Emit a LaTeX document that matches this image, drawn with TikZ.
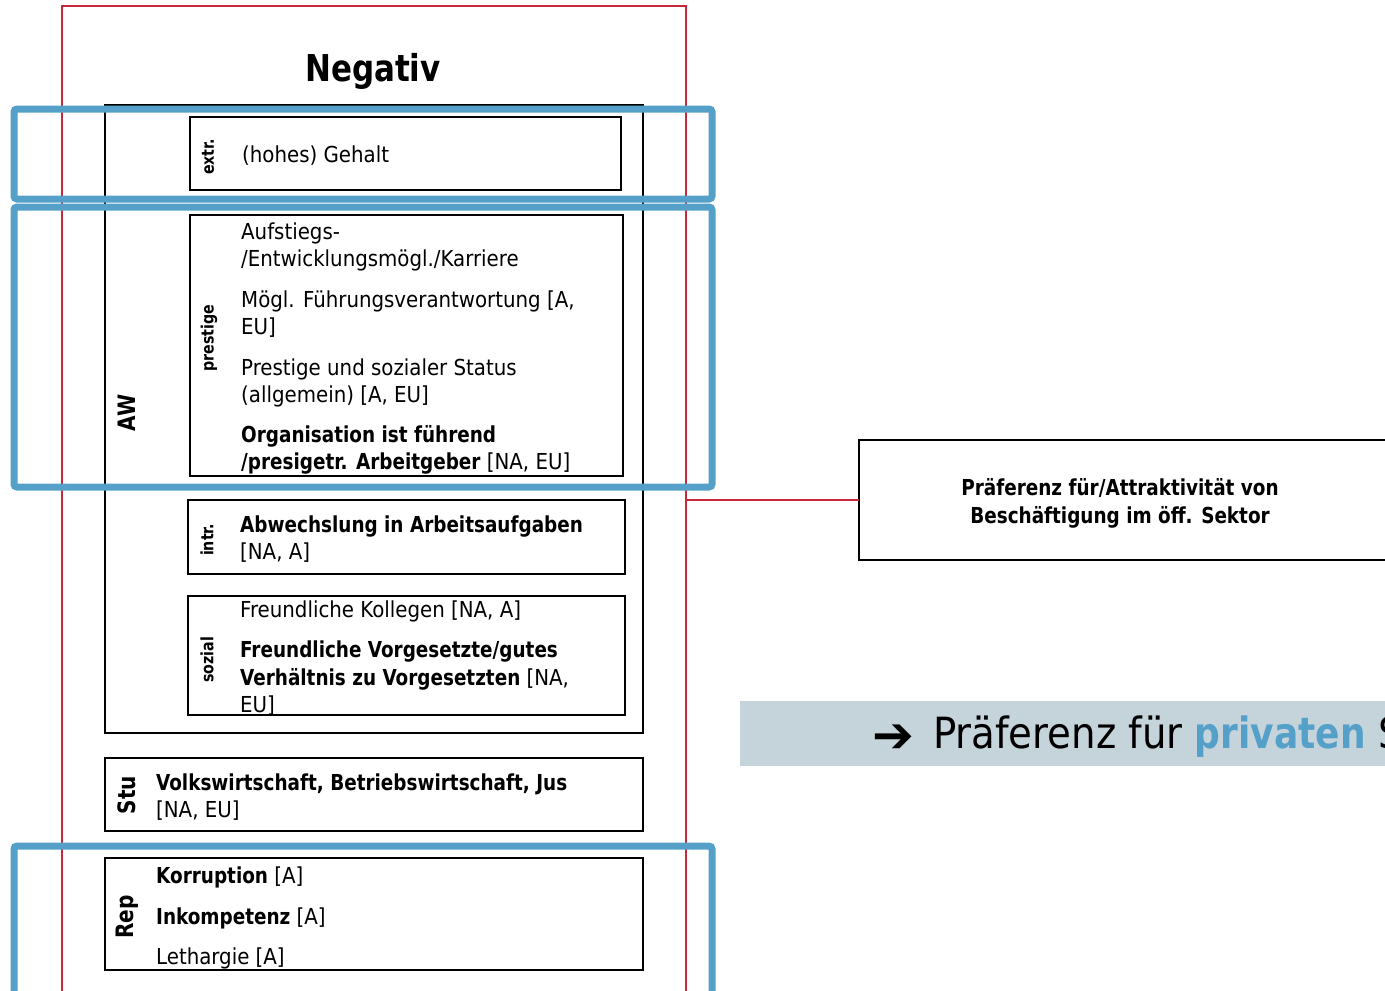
\documentclass[tikz,border=0pt]{standalone}
\usepackage{fontspec}
\setmainfont{DejaVuSansCondensed}[Extension=.ttf, BoldFont=DejaVuSansCondensed-Bold, BoldFeatures={FakeStretch=0.93}]
\newfontfamily\symfont{DejaVu Sans}
\definecolor{negred}{HTML}{C8283C}
\definecolor{hlblue}{HTML}{55A0C8}
\definecolor{bandgray}{HTML}{C5D3DA}
\tikzset{
  box/.style={draw=black, line width=2.8pt, inner sep=0pt, outer sep=0pt, anchor=north west},
  hilite/.style={draw=hlblue, line width=7pt, rounded corners=3pt},
  lt/.style={anchor=base west, inner sep=0pt, font=\fontsize{22}{27}\selectfont},
  cat/.style={rotate=90, inner sep=0pt, font=\fontsize{17}{20}\selectfont\bfseries},
  grp/.style={rotate=90, inner sep=0pt, font=\fontsize{24}{28}\selectfont\bfseries},
}
\begin{document}
\begin{tikzpicture}[x=1pt, y=-1pt]
\clip (0,0) rectangle (1385,991);
\fill[white] (0,0) rectangle (1385,991);

% outer frame of the negative factors
\node[draw=negred, line width=2pt, inner sep=0pt, outer sep=0pt, anchor=north west,
      minimum width=624pt, minimum height=1000pt] (neg) at (62,6) {};
\node[anchor=base, inner sep=0pt, font=\fontsize{37}{40}\selectfont\bfseries] (negtitle) at (373,81) {Negativ};

% work-values group and its sub-boxes
\node[box, minimum width=538pt, minimum height=628pt] (aw) at (105,105) {};
\node[box, minimum width=431pt, minimum height=73pt] (extr) at (190,117) {};
\node[box, minimum width=433pt, minimum height=261pt] (prest) at (190,215) {};
\node[box, minimum width=437pt, minimum height=74pt] (intr) at (188,500) {};
\node[box, minimum width=437pt, minimum height=119pt] (soz) at (188,596) {};
\node[box, minimum width=538pt, minimum height=73pt] (stu) at (105,758) {};
\node[box, minimum width=538pt, minimum height=112pt] (rep) at (105,858) {};

% rotated category labels
\node[grp] (awlab) at (127,413) {AW};
\node[cat] (extrlab) at (208,157) {extr.};
\node[cat] (prestlab) at (209,338) {prestige};
\node[cat] (intrlab) at (207,540) {intr.};
\node[cat] (sozlab) at (207,660) {sozial};
\node[grp] (stulab) at (127,795) {Stu};
\node[grp] (replab) at (127,917) {Rep};

% entries
\node[lt] (e1) at (242,162) {(hohes) Gehalt};
\node[lt] (p1) at (241,239) {Aufstiegs-};
\node[lt] (p2) at (241,266) {/Entwicklungsmögl./Karriere};
\node[lt] (p3) at (241,307) {Mögl. Führungsverantwortung [A,};
\node[lt] (p4) at (241,334) {EU]};
\node[lt] (p5) at (241,375) {Prestige und sozialer Status};
\node[lt] (p6) at (241,402) {(allgemein) [A, EU]};
\node[lt] (p7) at (241,442) {\textbf{Organisation ist führend}};
\node[lt] (p8) at (241,469) {\textbf{/presigetr. Arbeitgeber} [NA, EU]};
\node[lt] (i1) at (240,532) {\textbf{Abwechslung in Arbeitsaufgaben}};
\node[lt] (i2) at (240,559) {[NA, A]};
\node[lt] (s1) at (240,617) {Freundliche Kollegen [NA, A]};
\node[lt] (s2) at (240,657) {\textbf{Freundliche Vorgesetzte/gutes}};
\node[lt] (s3) at (240,685) {\textbf{Verhältnis zu Vorgesetzten} [NA,};
\node[lt] (s4) at (240,712) {EU]};
\node[lt] (t1) at (156,790) {\textbf{Volkswirtschaft, Betriebswirtschaft, Jus}};
\node[lt] (t2) at (156,817) {[NA, EU]};
\node[lt] (r1) at (156,883) {\textbf{Korruption} [A]};
\node[lt] (r2) at (156,924) {\textbf{Inkompetenz} [A]};
\node[lt] (r3) at (156,964) {Lethargie [A]};

% highlighted rows
\draw[hilite] (14,109) rectangle (712,199);
\draw[hilite] (14,207) rectangle (712,487);
\draw[hilite] (14,846) rectangle (712,1000);

% outcome box and its link
\node[draw=black, line width=2.8pt, inner sep=0pt, outer sep=0pt, anchor=west,
      minimum width=560pt, minimum height=120pt] (pref) at (859,500) {};
\node[anchor=base, inner sep=0pt, font=\fontsize{22}{27}\selectfont\bfseries] (pt1) at (1120,495) {Präferenz für/Attraktivität von};
\node[anchor=base, inner sep=0pt, font=\fontsize{22}{27}\selectfont\bfseries] (pt2) at (1120,523) {Beschäftigung im öff. Sektor};
\draw[negred, line width=1.5pt] (pref.west -| neg.east) -- (pref.west);

% conclusion band
\fill[bandgray] (740,701) rectangle (1400,766);
\node[anchor=base west, inner sep=0pt, font=\fontsize{50}{54}\selectfont\symfont\bfseries] (arr) at (872,752) {➔};
\node[anchor=base west, inner sep=0pt, font=\fontsize{43}{47}\selectfont] (concl) at (933,748) {Präferenz für \textcolor{hlblue}{\textbf{privaten}} Sektor};
\end{tikzpicture}
\end{document}
